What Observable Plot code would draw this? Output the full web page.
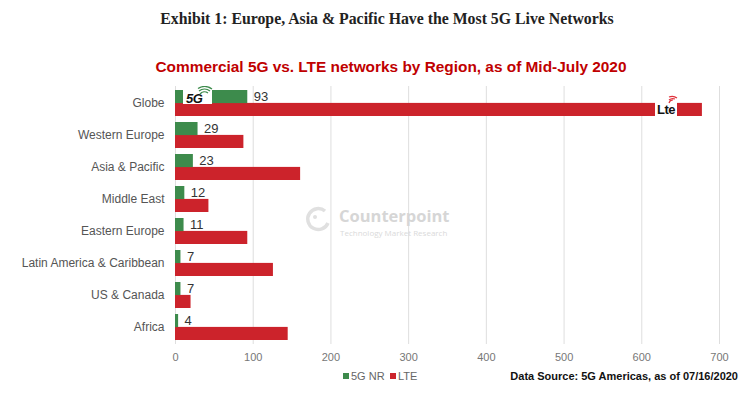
<!DOCTYPE html>
<html>
<head>
<meta charset="utf-8">
<script src="https://cdn.jsdelivr.net/npm/d3@7"></script>
<script src="https://cdn.jsdelivr.net/npm/@observablehq/plot@0.6"></script>
<style>
  html, body { margin: 0; padding: 0; background: #fff; }
  #wrap { position: relative; width: 754px; height: 394px; overflow: hidden; font-family: "Liberation Sans", Arial, sans-serif; }
  #title { box-sizing: border-box; padding-left: 20px; height: 38px; line-height: 38px; text-align: center; font-family: "Liberation Serif", "Times New Roman", serif; font-weight: bold; font-size: 15.8px; color: #222; }
  #subtitle { box-sizing: border-box; height: 42px; padding-top: 19px; padding-left: 28px; line-height: 20px; text-align: center; font-weight: bold; font-size: 15.4px; color: #c00000; }
  #chart { height: 284px; }
  #foot { position: relative; height: 30px; font-size: 11px; }
  .sw { position: absolute; top: 9px; width: 6px; height: 6px; }
  .lg { position: absolute; top: 5px; line-height: 14px; color: #666; }
  #src { position: absolute; top: 5px; right: 16px; line-height: 14px; font-weight: bold; color: #111; font-size: 11px; }
  .ov { position: absolute; }
</style>
</head>
<body>
<div id="wrap">
  <div id="title">Exhibit 1: Europe, Asia &amp; Pacific Have the Most 5G Live Networks</div>
  <div id="subtitle">Commercial 5G vs. LTE networks by Region, as of Mid-July 2020</div>
  <div id="chart"></div>
  <div id="foot">
    <div class="sw" style="left:343px;background:#3d8b4c"></div>
    <div class="lg" style="left:351px">5G NR</div>
    <div class="sw" style="left:390px;background:#cc232b"></div>
    <div class="lg" style="left:398px">LTE</div>
    <div id="src">Data Source: 5G Americas, as of 07/16/2020</div>
  </div>
  <!-- watermark -->
  <svg class="ov" style="left:304px;top:205px" width="28" height="28">
    <path d="M 21 6 A 10.5 10.5 0 1 0 24 18" fill="none" stroke="#e0e0e0" stroke-width="3.5"/>
    <circle cx="11" cy="12" r="2" fill="#e0e0e0"/>
  </svg>
  <div class="ov" style="left:339px;top:207px;font-size:16.5px;font-weight:bold;color:#d6d6d6;font-family:'Open Sans',sans-serif;line-height:17px;">Counterpoint</div>
  <div class="ov" style="left:340px;top:229px;font-size:8px;color:#dadada;font-family:'Open Sans',sans-serif;line-height:8px;">Technology Market Research</div>
  <!-- icons -->
  <div class="ov" style="left:183px;top:88px;width:29px;height:16px;background:#fff;"></div>
  <div class="ov" style="left:186px;top:92px;font-size:13px;font-weight:bold;font-style:italic;color:#111;line-height:13px;letter-spacing:-0.5px;">5G</div>
  <svg class="ov" style="left:196px;top:86px" width="18" height="14">
    <path d="M 4 8 A 6 6 0 0 1 12 7" fill="none" stroke="#3d8b4c" stroke-width="1.3"/>
    <path d="M 3 5 A 9 9 0 0 1 14 5" fill="none" stroke="#3d8b4c" stroke-width="1.3"/>
    <path d="M 2 2.5 A 12 12 0 0 1 16 3" fill="none" stroke="#3d8b4c" stroke-width="1.3"/>
  </svg>
  <div class="ov" style="left:655px;top:102px;width:22px;height:14px;background:#fff;"></div>
  <div class="ov" style="left:657px;top:103px;font-size:13px;font-weight:bold;color:#111;line-height:13px;letter-spacing:-0.5px;">Lte</div>
  <svg class="ov" style="left:666px;top:95px" width="12" height="10">
    <path d="M 3 8 A 4 4 0 0 1 7 5" fill="none" stroke="#e0303a" stroke-width="1.2"/>
    <path d="M 3 5 A 6 6 0 0 1 9 4" fill="none" stroke="#e0303a" stroke-width="1.2"/>
    <path d="M 3 2 A 8 8 0 0 1 11 3" fill="none" stroke="#e0303a" stroke-width="1.2"/>
  </svg>
</div>
<script>
const regions = ["Globe", "Western Europe", "Asia & Pacific", "Middle East", "Eastern Europe", "Latin America & Caribbean", "US & Canada", "Africa"];
const nr5g = [93, 29, 23, 12, 11, 7, 7, 4];
const lte = [678, 88, 161, 43, 93, 126, 20, 145];
const xTicks = [0, 100, 200, 300, 400, 500, 600, 700];

const green = "#3d8b4c";
const red = "#cc232b";

const rows = regions.map((r, i) => ({region: r, nr: nr5g[i], lte: lte[i]}));

const height = 284, marginTop = 6, marginBottom = 20;
const pIn = 0.2, pOut = 0.1;
const step = (height - marginTop - marginBottom) / (regions.length - pIn + 2 * pOut);
const bw = step * (1 - pIn);

const chart = Plot.plot({
  width: 754,
  height,
  marginTop,
  marginBottom,
  marginLeft: 175,
  marginRight: 35,
  style: {fontFamily: "'Liberation Sans', Arial, sans-serif", background: "#fff"},
  x: {domain: [0, 700]},
  y: {domain: regions, paddingInner: pIn, paddingOuter: pOut},
  marks: [
    Plot.gridX(xTicks, {stroke: "#dedede", strokeOpacity: 1}),
    Plot.barX(rows, {x: "lte", y: "region", fill: red, insetTop: bw / 2}),
    Plot.barX(rows, {x: "nr", y: "region", fill: green, insetBottom: bw / 2}),
    Plot.text(rows, {x: "nr", y: "region", text: "nr", dx: 6, dy: -bw / 4, textAnchor: "start", fontSize: 13, fill: "#333"}),
    Plot.axisX({ticks: xTicks, tickSize: 0, tickPadding: 9, fontSize: 11, color: "#777", label: null}),
    Plot.axisY({tickSize: 0, tickPadding: 11, fontSize: 12, color: "#555", label: null})
  ]
});
document.getElementById("chart").appendChild(chart);
</script>
</body>
</html>
